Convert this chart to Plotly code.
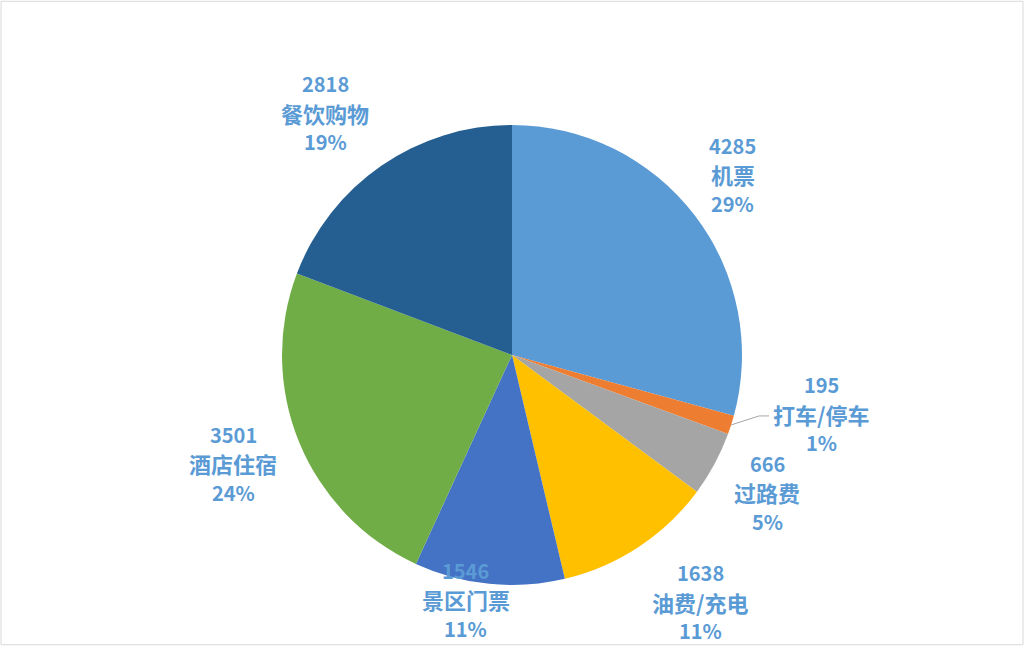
import math
import plotly.graph_objects as go

# data
categories = ["机票", "打车/停车", "过路费", "油费/充电", "景区门票", "酒店住宿", "餐饮购物"]
amounts = [4285, 195, 666, 1638, 1546, 3501, 2818]
colors = ["#5B9BD5", "#ED7D31", "#A5A5A5", "#FFC000", "#4472C4", "#70AD47", "#255E91"]

# label placement (distance factor from centre, angle nudge in degrees)
label_radius = [1.24, 1.37, 1.26, 1.35, 1.08, 1.30, 1.33]
label_nudge = [-2, -7, 0, -4, 5, 1, -3]

W, H = 1024, 646
CX, CY, R = 512, 355, 230
LABEL_COLOR = "#5B9BD5"
LINE_GAP = 29


def px_to_paper(x, y):
    return x / W, 1 - y / H


def build_figure():
    fig = go.Figure(go.Pie(
        labels=categories,
        values=amounts,
        marker=dict(colors=colors, line=dict(width=0)),
        sort=False,
        direction="clockwise",
        rotation=0,
        textinfo="none",
        hoverinfo="label+value+percent",
        domain=dict(x=[(CX - R) / W, (CX + R) / W],
                    y=[(H - CY - R) / H, (H - CY + R) / H]),
        showlegend=False,
    ))

    total = sum(amounts)
    cum = 0
    annotations = []
    shapes = []
    for i, (cat, val) in enumerate(zip(categories, amounts)):
        mid = (cum + val / 2) / total * 360
        cum += val
        ang = math.radians(mid + label_nudge[i])
        lx = CX + R * label_radius[i] * math.sin(ang)
        ly = CY - R * label_radius[i] * math.cos(ang)
        pct = round(val / total * 100)
        lines = [(str(val), 20), (cat, 22), (f"{pct}%", 20)]
        for j, (txt, size) in enumerate(lines):
            px, py = px_to_paper(lx, ly + (j - 1) * LINE_GAP)
            annotations.append(dict(
                x=px, y=py, xref="paper", yref="paper",
                text=f"<b>{txt}</b>", showarrow=False,
                xanchor="center", yanchor="middle",
                font=dict(size=size, color=LABEL_COLOR,
                          family="Noto Sans CJK SC, Noto Sans, sans-serif"),
            ))
        # leader line for the small slice
        if val / total < 0.02:
            a = math.radians(mid)
            ex, ey = CX + R * math.sin(a), CY - R * math.cos(a)
            bx, by = ex + 28, ey - 9
            tx, ty = bx + 10, by
            p0, p1, p2 = px_to_paper(ex, ey), px_to_paper(bx, by), px_to_paper(tx, ty)
            shapes.append(dict(
                type="path", xref="paper", yref="paper",
                path=f"M {p0[0]},{p0[1]} L {p1[0]},{p1[1]} L {p2[0]},{p2[1]}",
                line=dict(color="#A6A6A6", width=1),
            ))

    shapes.append(dict(type="rect", xref="paper", yref="paper",
                       x0=0.001, y0=0.002, x1=0.999, y1=0.998,
                       line=dict(color="#D9D9D9", width=1)))

    fig.update_layout(
        width=W, height=H,
        margin=dict(l=0, r=0, t=0, b=0),
        paper_bgcolor="white",
        plot_bgcolor="white",
        annotations=annotations,
        shapes=shapes,
    )
    return fig


def main():
    fig = build_figure()
    # drop the default page margin so the chart sits flush in the window
    fig.write_html("out.html",
                   config={"displayModeBar": False},
                   post_script="document.body.style.margin='0';")


if __name__ == "__main__":
    main()
